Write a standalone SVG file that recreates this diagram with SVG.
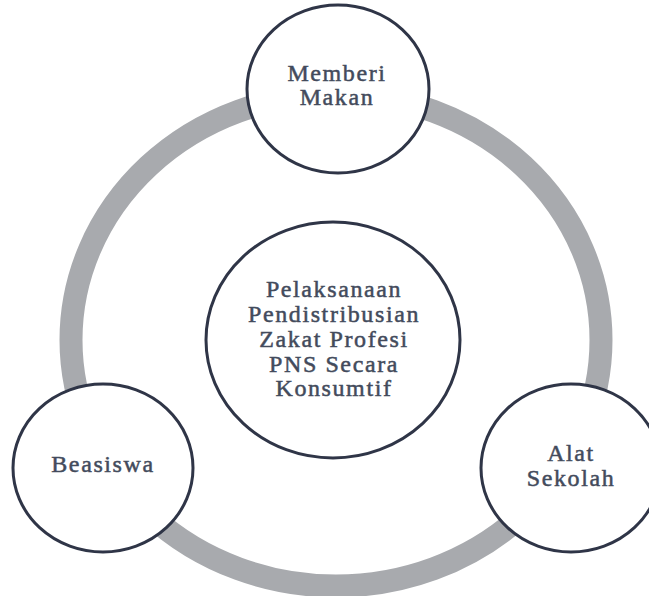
<svg xmlns="http://www.w3.org/2000/svg" width="649" height="596" viewBox="0 0 649 596">
  <style>
    .node { fill: #ffffff; stroke: #2f3547; stroke-width: 3; }
    .ring { fill: none; stroke: #a8aaae; stroke-width: 23; }
    .lbl { font-family: "Liberation Serif", "Times New Roman", serif; font-size: 24px; fill: #434b5c; stroke: #434b5c; stroke-width: 0.5; text-anchor: middle; letter-spacing: 1.6px; }
  </style>
  <rect x="0" y="0" width="649" height="596" fill="#ffffff"/>
  <g id="connectors">
    <ellipse class="ring" cx="336" cy="340" rx="265" ry="246"/>
  </g>
  <g id="node-memberi-makan">
    <ellipse class="node" cx="338" cy="89" rx="91" ry="84"/>
    <text class="lbl" x="337" y="81">Memberi</text>
    <text class="lbl" x="337" y="105">Makan</text>
  </g>
  <g id="node-center">
    <ellipse class="node" cx="333" cy="340" rx="127" ry="118"/>
    <text class="lbl" x="334" y="297">Pelaksanaan</text>
    <text class="lbl" x="334" y="322">Pendistribusian</text>
    <text class="lbl" x="334" y="347">Zakat Profesi</text>
    <text class="lbl" x="334" y="372">PNS Secara</text>
    <text class="lbl" x="334" y="396">Konsumtif</text>
  </g>
  <g id="node-beasiswa">
    <ellipse class="node" cx="103" cy="468" rx="90" ry="84"/>
    <text class="lbl" x="103" y="472">Beasiswa</text>
  </g>
  <g id="node-alat-sekolah">
    <ellipse class="node" cx="571" cy="468" rx="90" ry="84"/>
    <text class="lbl" x="571" y="461">Alat</text>
    <text class="lbl" x="571" y="486">Sekolah</text>
  </g>
</svg>
